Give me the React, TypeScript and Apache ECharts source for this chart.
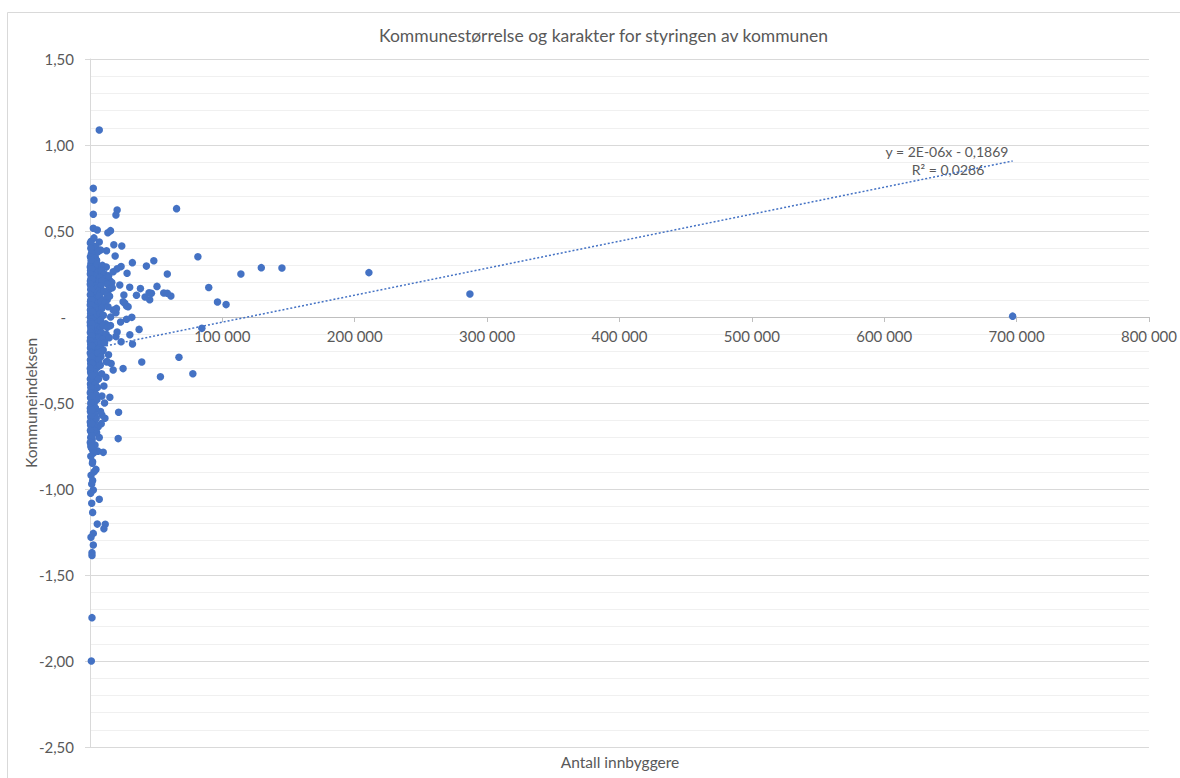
import React, { useEffect, useRef } from "react";
import * as echarts from "echarts";

const chartTitle = "Kommunestørrelse og karakter for styringen av kommunen";
const xAxisTitle = "Antall innbyggere";
const yAxisTitle = "Kommuneindeksen";
const trendEquation = "y = 2E-06x - 0,1869";
const trendR2 = "R² = 0,0286";

const xTickValues = [0, 100000, 200000, 300000, 400000, 500000, 600000, 700000, 800000];
const yTickValues = [-2.5, -2.0, -1.5, -1.0, -0.5, 0, 0.5, 1.0, 1.5];

// [innbyggere, kommuneindeks]
const largeMunicipalities: [number, number][] = [
  [697000, 0.005], [287000, 0.134], [210700, 0.258], [145000, 0.285], [129400, 0.287],
  [114000, 0.25], [102800, 0.072], [96300, 0.087], [89700, 0.172], [84500, -0.066],
  [81500, 0.35], [77700, -0.33], [67200, -0.234], [65400, 0.63], [61100, 0.122],
  [58400, 0.138], [58400, 0.25], [55700, 0.14], [53200, -0.347], [50600, 0.178],
  [48200, 0.327], [46400, 0.138], [45100, 0.1], [44600, 0.141], [42600, 0.296],
  [41600, 0.116], [39100, -0.262], [38100, 0.165], [37100, -0.072], [35100, 0.126],
  [32100, -0.157], [32000, 0.316], [31600, -0.002], [30100, -0.103], [30000, 0.173],
];

const midMunicipalities: [number, number][] = [
  [28800, 0.06], [28000, 0.254], [27600, 0.064], [27600, -0.013], [26300, 0.08],
  [25600, 0.128], [25000, 0.089], [25000, -0.3], [24000, 0.413], [23500, 0.293],
  [23500, -0.144], [23100, -0.029], [22500, 0.186], [21600, -0.554], [21300, -0.707],
  [20500, 0.622], [20500, 0.28], [20500, -0.087], [20000, 0.05], [19600, 0.593],
  [19600, 0.025], [19600, -0.114], [19000, 0.355], [18000, 0.42], [17500, 0.263],
  [17500, 0.041], [17500, -0.308], [15500, 0.502], [15000, 0.211], [15000, -0.467],
  [13500, 0.49], [12500, 0.385], [11300, -0.589], [11500, -1.205], [10500, -1.231],
  [10500, -0.401], [10000, -0.192], [10000, -0.787], [9000, -0.57],
  [13000, -0.26], [14000, -0.22], [16000, -0.27], [12500, -0.12], [15500, -0.05],
  [13000, 0.1], [14500, 0.16], [16500, 0.2], [12000, -0.35], [11000, -0.5],
  [9000, -0.46], [8000, -0.55], [8500, -0.62], [7000, -0.7], [6000, -0.78],
];

const extremeSmallMunicipalities: [number, number][] = [
  [7000, 1.087], [2500, 0.748], [3000, 0.68], [2500, 0.597], [2500, 0.516],
  [5500, 0.506], [7000, 0.436], [2000, 0.413], [8000, 0.39], [2500, 0.37],
  [4000, 0.347], [5000, 0.33], [2500, 0.28], [7500, 0.28], [6200, -0.638],
  [2000, -0.841], [4500, -0.886], [1300, -0.971], [2500, -1.006], [500, -1.025],
  [7000, -1.06], [1300, -1.083], [2000, -1.136], [5500, -1.204], [2500, -1.258],
  [750, -1.281], [2500, -1.326], [1500, -1.37], [1500, -1.386], [1500, -1.748],
  [1000, -2.0], [2500, -0.672], [5000, -0.672], [1300, -0.725], [3800, -0.744],
  [2000, -0.773],
];

const smallMunicipalities: [number, number][] = [
  [1200, 0.34], [3500, 0.36], [1800, 0.39], [4500, 0.41], [6000, 0.38], [900, 0.44], [3000, 0.46],
  [650, 0.31], [1800, 0.30], [3300, 0.29], [5200, 0.31], [9400, 0.30], [12300, 0.29],
  [400, 0.27], [1400, 0.26], [2700, 0.27], [4300, 0.25], [6100, 0.26], [8700, 0.27], [10900, 0.25],
  [900, 0.24], [2100, 0.23], [3600, 0.24], [5600, 0.22], [7400, 0.23], [11600, 0.22], [14100, 0.24],
  [300, 0.21], [1200, 0.20], [2900, 0.21], [4700, 0.19], [6800, 0.20], [9100, 0.21], [13200, 0.19],
  [700, 0.18], [1900, 0.17], [3900, 0.18], [5400, 0.17], [8200, 0.18], [16800, 0.17],
  [500, 0.16], [1600, 0.15], [2600, 0.14], [4100, 0.16], [6300, 0.15], [7900, 0.14], [10400, 0.15], [12900, 0.13],
  [1000, 0.12], [2200, 0.11], [3400, 0.12], [5000, 0.11], [7000, 0.12], [9600, 0.10], [14800, 0.12],
  [350, 0.09], [1500, 0.08], [2800, 0.09], [4400, 0.07], [5900, 0.08], [8400, 0.09], [11300, 0.08],
  [800, 0.05], [2000, 0.04], [3200, 0.06], [4800, 0.05], [6600, 0.04], [8900, 0.05], [13600, 0.06],
  [450, 0.02], [1300, 0.01], [2500, 0.02], [3800, 0.00], [5500, 0.01], [7600, 0.02], [10100, 0.01], [15600, 0.00],
  [900, -0.02], [1800, -0.03], [3000, -0.02], [4500, -0.04], [6200, -0.03], [8100, -0.02], [11900, -0.04],
  [300, -0.05], [1400, -0.06], [2400, -0.07], [3600, -0.05], [5200, -0.06], [7300, -0.07], [9800, -0.05], [13000, -0.06],
  [700, -0.09], [1700, -0.10], [2900, -0.08], [4200, -0.09], [5800, -0.10], [8600, -0.09], [12200, -0.10],
  [400, -0.12], [1200, -0.13], [2300, -0.11], [3500, -0.12], [4900, -0.14], [6900, -0.12], [9300, -0.13], [14500, -0.12],
  [850, -0.15], [1900, -0.16], [3100, -0.15], [4600, -0.17], [6400, -0.15], [8000, -0.16], [11000, -0.15],
  [350, -0.18], [1300, -0.19], [2600, -0.18], [3900, -0.20], [5300, -0.19], [7100, -0.18], [9000, -0.20],
  [750, -0.22], [1800, -0.21], [3000, -0.23], [4400, -0.22], [6000, -0.21], [8300, -0.23],
  [300, -0.25], [1200, -0.26], [2200, -0.24], [3500, -0.25], [5000, -0.27], [6700, -0.25], [12400, -0.26],
  [900, -0.28], [2000, -0.29], [2900, -0.28], [4100, -0.30], [5700, -0.29], [7800, -0.28],
  [450, -0.32], [1500, -0.31], [2500, -0.33], [3700, -0.32], [5200, -0.34], [8800, -0.33],
  [1000, -0.35], [2100, -0.36], [3200, -0.35], [4600, -0.37], [6400, -0.36],
  [350, -0.39], [1400, -0.38], [2700, -0.40], [3900, -0.39], [5600, -0.41],
  [800, -0.43], [1900, -0.44], [3100, -0.43], [4500, -0.45],
  [400, -0.47], [1300, -0.48], [2400, -0.47], [3600, -0.49], [5300, -0.48],
  [900, -0.51], [2000, -0.52], [3000, -0.51], [4200, -0.53],
  [300, -0.55], [1500, -0.56], [2600, -0.55], [3800, -0.57],
  [1000, -0.59], [2100, -0.60], [3300, -0.61], [4700, -0.59],
  [450, -0.63], [1600, -0.64], [2800, -0.63],
  [900, -0.67], [2200, -0.68], [3400, -0.66],
  [500, -0.70], [1700, -0.71],
  [1000, -0.76], [2600, -0.79], [600, -0.81], [1800, -0.85], [3100, -0.90], [800, -0.92], [2000, -0.95],
];

const microMunicipalities: [number, number][] = [
  [250, 0.43], [600, 0.40], [1100, 0.37], [300, 0.35], [800, 0.33], [200, 0.29], [1100, 0.28],
  [250, 0.25], [600, 0.22], [1500, 0.22], [200, 0.19], [1000, 0.16], [250, 0.13], [600, 0.10],
  [1200, 0.10], [200, 0.07], [1000, 0.07], [300, 0.04], [1500, 0.03], [250, 0.00], [700, -0.01],
  [200, -0.03], [1100, -0.04], [600, -0.07], [250, -0.09], [1200, -0.11], [200, -0.14], [500, -0.16],
  [1400, -0.17], [200, -0.21], [1000, -0.23], [500, -0.27], [1600, -0.27], [200, -0.30], [800, -0.33],
  [250, -0.36], [1700, -0.34], [600, -0.41], [200, -0.44], [1300, -0.46], [600, -0.50], [250, -0.53],
  [1100, -0.54], [500, -0.58], [200, -0.61], [1200, -0.62], [300, -0.66], [1300, -0.69], [200, -0.73],
  [600, -0.75],
];

// Lineær trendlinje (endepunkter)
const trendLine: [number, number][] = [
  [300, -0.1864],
  [697000, 0.907],
];

const FONT = "Lato, 'Liberation Sans', sans-serif";
const TEXT = "#595959";
const DOT = "#4472C4";

function fmtY(v: number): string {
  if (Math.abs(v) < 1e-9) return "{z|-}";
  return v.toFixed(2).replace(".", ",");
}
function fmtX(v: number): string {
  if (v === 0) return "";
  return String(Math.round(v)).replace(/\B(?=(\d{3})+(?!\d))/g, " ");
}

export default function App() {
  const ref = useRef<HTMLDivElement>(null);
  useEffect(() => {
    if (!ref.current) return;
    const chart = echarts.init(ref.current, null, { renderer: "svg" });
    const points = [
      ...largeMunicipalities,
      ...midMunicipalities,
      ...extremeSmallMunicipalities,
      ...smallMunicipalities,
      ...microMunicipalities,
    ];
    chart.setOption({
      animation: false,
      backgroundColor: "#ffffff",
      textStyle: { fontFamily: FONT },
      title: {
        text: chartTitle,
        left: 374,
        top: 21,
        textStyle: { fontSize: 17.5, fontWeight: "normal", color: TEXT, fontFamily: FONT },
      },
      grid: { left: 90, right: 27, top: 59, bottom: 31, containLabel: false },
      xAxis: {
        type: "value",
        position: "bottom",
        offset: -430,
        min: xTickValues[0],
        max: xTickValues[xTickValues.length - 1],
        interval: xTickValues[1] - xTickValues[0],
        axisLine: { show: true, onZero: false, lineStyle: { color: "#bfbfbf", width: 1 } },
        axisTick: { show: true, length: 5, lineStyle: { color: "#bfbfbf" } },
        axisLabel: { color: TEXT, fontSize: 15, margin: 11, fontFamily: FONT, formatter: fmtX },
        splitLine: { show: false },
      },
      yAxis: {
        type: "value",
        min: yTickValues[0],
        max: yTickValues[yTickValues.length - 1],
        interval: yTickValues[1] - yTickValues[0],
        name: yAxisTitle,
        nameLocation: "middle",
        nameGap: 51,
        nameMoveOverlap: false,
        nameRotate: 90,
        nameTextStyle: { color: TEXT, fontSize: 15.5, fontFamily: FONT },
        axisLine: { show: true, lineStyle: { color: "#d9d9d9" } },
        axisTick: { show: true, length: 5, lineStyle: { color: "#d9d9d9" } },
        axisLabel: {
          color: TEXT,
          fontSize: 15,
          margin: 16,
          fontFamily: FONT,
          formatter: fmtY,
          rich: { z: { color: TEXT, fontSize: 15, fontFamily: FONT, padding: [0, 8, 0, 0] } },
        },
        splitLine: { show: true, lineStyle: { color: "#d9d9d9" } },
        minorTick: { show: false, splitNumber: 5 },
        minorSplitLine: { show: true, lineStyle: { color: "#f0f0f0" } },
      },
      graphic: [
        {
          type: "rect",
          silent: true,
          shape: { x: 7.5, y: 12.5, width: 1200, height: 800 },
          style: { fill: "none", stroke: "#d9d9d9", lineWidth: 1 },
        },
        {
          type: "text",
          x: 620,
          y: 762,
          silent: true,
          style: {
            text: xAxisTitle,
            fontSize: 15.5,
            fontFamily: FONT,
            fill: TEXT,
            align: "center",
            verticalAlign: "middle",
            textAlign: "center",
            textVerticalAlign: "middle",
          },
        },
        {
          type: "text",
          x: 947,
          y: 151,
          silent: true,
          style: {
            text: trendEquation,
            fontSize: 14,
            fontFamily: FONT,
            fill: TEXT,
            align: "center",
            verticalAlign: "middle",
            textAlign: "center",
            textVerticalAlign: "middle",
          },
        },
        {
          type: "text",
          x: 948,
          y: 169,
          silent: true,
          style: {
            text: trendR2,
            fontSize: 14,
            fontFamily: FONT,
            fill: TEXT,
            align: "center",
            verticalAlign: "middle",
            textAlign: "center",
            textVerticalAlign: "middle",
          },
        },
      ],
      series: [
        {
          type: "scatter",
          name: "Kommuner",
          data: points,
          symbol: "circle",
          symbolSize: 7.5,
          itemStyle: { color: DOT, opacity: 1 },
          z: 2,
        },
        {
          type: "line",
          name: "Lineær (Kommuner)",
          data: trendLine,
          symbol: "none",
          showSymbol: false,
          silent: true,
          lineStyle: { type: [2, 2], color: DOT, width: 1.5 },
          z: 3,
        },
      ],
    });
    return () => chart.dispose();
  }, []);
  return (
    <div
      ref={ref}
      style={{ position: "absolute", left: 0, top: 0, width: 1180, height: 778, background: "#fff" }}
    />
  );
}
